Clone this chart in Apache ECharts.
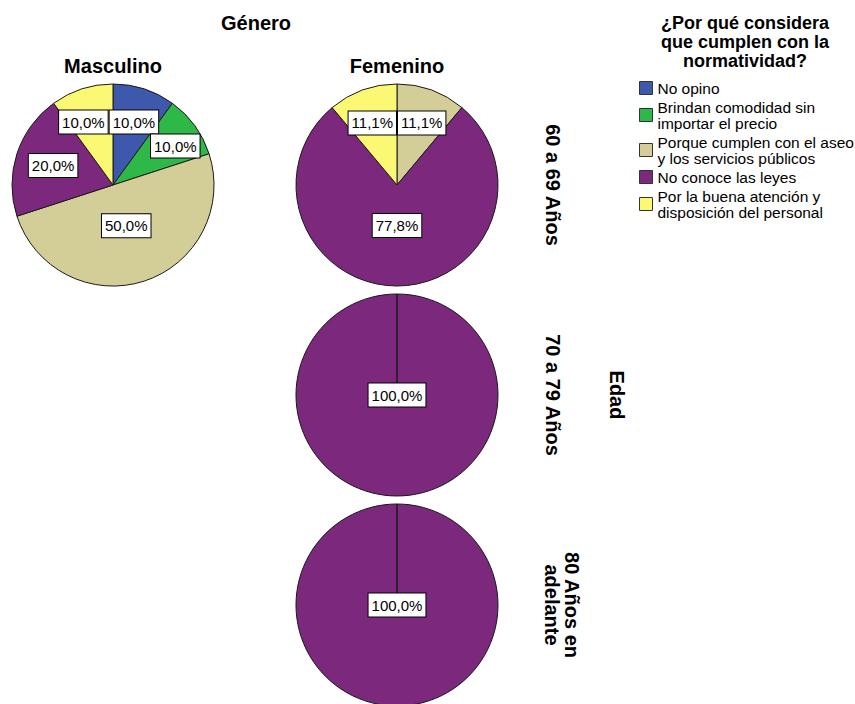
<!DOCTYPE html>
<html>
<head>
<meta charset="utf-8">
<script src="https://cdn.jsdelivr.net/npm/echarts@6/dist/echarts.min.js"></script>
<style>
  html, body { margin: 0; padding: 0; background: #ffffff; }
  #chart { width: 855px; height: 704px; }
</style>
</head>
<body>
<div id="chart"></div>
<script>
// Response categories (legend order = slice order, clockwise from 12 o'clock)
const categories = [
  'No opino',
  'Brindan comodidad sin importar el precio',
  'Porque cumplen con el aseo y los servicios públicos',
  'No conoce las leyes',
  'Por la buena atención y disposición del personal'
];
const legendLabels = [
  'No opino',
  'Brindan comodidad sin\nimportar el precio',
  'Porque cumplen con el aseo\ny los servicios públicos',
  'No conoce las leyes',
  'Por la buena atención y\ndisposición del personal'
];
const colors = ['#3E58AC', '#2EB848', '#D3CE97', '#7C287D', '#FBF873'];

// Percentages per panel (Género x Edad)
const masculino6069 = [10.0, 10.0, 50.0, 20.0, 10.0];
const femenino6069  = [0, 0, 11.1, 77.8, 11.1];
const femenino7079  = [0, 0, 0, 100.0, 0];
const femenino80    = [0, 0, 0, 100.0, 0];

const genderLabels = ['Masculino', 'Femenino'];
const ageLabels = ['60 a 69 Años', '70 a 79 Años', '80 Años en\nadelante'];
const legendTitle = '¿Por qué considera\nque cumplen con la\nnormatividad?';

// ---- layout ----
const FONT = '"Liberation Sans", Arial, sans-serif';
const R = 101;
const colX = [113, 397];
const rowY = [185, 395, 605];
const panels = [
  { values: masculino6069, center: [colX[0], rowY[0]] },
  { values: femenino6069,  center: [colX[1], rowY[0]] },
  { values: femenino7079,  center: [colX[1], rowY[1]] },
  { values: femenino80,    center: [colX[1], rowY[2]] }
];

const LABEL_SIZE = 15;
const LABEL_PAD = [4, 3, 3, 3];
const LABEL_LH = 16;
const fmtPct = v => v.toFixed(1).replace('.', ',') + '%';

const measureCtx = document.createElement('canvas').getContext('2d');
measureCtx.font = LABEL_SIZE + 'px ' + FONT;
const boxW = t => measureCtx.measureText(t).width + LABEL_PAD[1] + LABEL_PAD[3] + 2;
const boxH = LABEL_LH + LABEL_PAD[0] + LABEL_PAD[2] + 2;

// Label anchor: sector centroid (kept away from the very centre unless the slice is the whole pie),
// then boxes on the same row are pushed apart horizontally.
function labelPositions(values, center, r) {
  const total = values.reduce((a, b) => a + b, 0);
  let acc = 0;
  const pos = values.map(v => {
    const f = v / total;
    const mid = (acc + f / 2) * 2 * Math.PI;
    acc += f;
    let d;
    if (f >= 0.999) d = 0;
    else {
      const a = Math.PI * f;
      d = Math.max(2 * r * Math.sin(a) / (3 * a), 0.4 * r);
    }
    return { x: center[0] + d * Math.sin(mid), y: center[1] - d * Math.cos(mid), w: boxW(fmtPct(v)), show: v > 0 };
  });
  for (let i = 0; i < pos.length; i++) {
    for (let j = i + 1; j < pos.length; j++) {
      const p = pos[i], q = pos[j];
      if (!p.show || !q.show) continue;
      if (Math.abs(p.y - q.y) >= boxH) continue;
      const ov = (p.w + q.w) / 2 - Math.abs(p.x - q.x);
      if (ov > 0) {
        const s = p.x <= q.x ? 1 : -1;
        p.x -= s * ov / 2;
        q.x += s * ov / 2;
      }
    }
  }
  return pos;
}

const series = panels.map(panel => {
  const pos = labelPositions(panel.values, panel.center, R);
  return {
    type: 'pie',
    center: panel.center,
    radius: R,
    startAngle: 90,
    clockwise: true,
    minAngle: 0,
    avoidLabelOverlap: false,
    silent: true,
    emphasis: { disabled: true },
    itemStyle: { borderColor: '#1a1a1a', borderWidth: 1 },
    labelLine: { show: false },
    label: {
      show: true,
      position: 'inside',
      formatter: p => fmtPct(p.value),
      fontFamily: FONT,
      fontSize: LABEL_SIZE,
      lineHeight: LABEL_LH,
      color: '#000',
      backgroundColor: '#ffffff',
      borderColor: '#000000',
      borderWidth: 1,
      padding: LABEL_PAD
    },
    labelLayout: p => {
      const q = pos[p.dataIndex];
      return { x: q.x, y: q.y, align: 'center', verticalAlign: 'middle' };
    },
    data: panel.values.map((v, i) => ({
      name: categories[i],
      value: v,
      itemStyle: { color: colors[i] },
      label: { show: v > 0 }
    }))
  };
});

const headText = (text, x, y, rot, extra) => ({
  type: 'text',
  x: x, y: y,
  rotation: rot || 0,
  silent: true,
  style: Object.assign({
    text: text,
    fill: '#000',
    font: 'bold 20px ' + FONT,
    align: 'center',
    verticalAlign: 'middle',
    lineHeight: 20
  }, extra || {})
});

const graphics = [
  headText('Género', 256, 23),
  headText(genderLabels[0], colX[0], 66),
  headText(genderLabels[1], colX[1], 66),
  headText(ageLabels[0], 553, rowY[0], -Math.PI / 2),
  headText(ageLabels[1], 553, rowY[1], -Math.PI / 2),
  headText(ageLabels[2], 562, rowY[2], -Math.PI / 2),
  headText('Edad', 617, rowY[1], -Math.PI / 2),
  headText(legendTitle, 745, 42, 0, { font: 'bold 18px ' + FONT, lineHeight: 19 })
];

const chart = echarts.init(document.getElementById('chart'), null, { renderer: 'svg' });
chart.setOption({
  animation: false,
  backgroundColor: '#ffffff',
  legend: {
    orient: 'vertical',
    left: 639,
    top: 80,
    itemWidth: 13,
    itemHeight: 13,
    itemGap: 3,
    padding: 0,
    icon: 'rect',
    selectedMode: false,
    data: categories,
    itemStyle: { borderColor: '#333333', borderWidth: 1 },
    formatter: name => legendLabels[categories.indexOf(name)],
    textStyle: { fontFamily: FONT, fontSize: 15.5, lineHeight: 16, color: '#000' }
  },
  graphic: graphics,
  series: series
});
</script>
</body>
</html>
